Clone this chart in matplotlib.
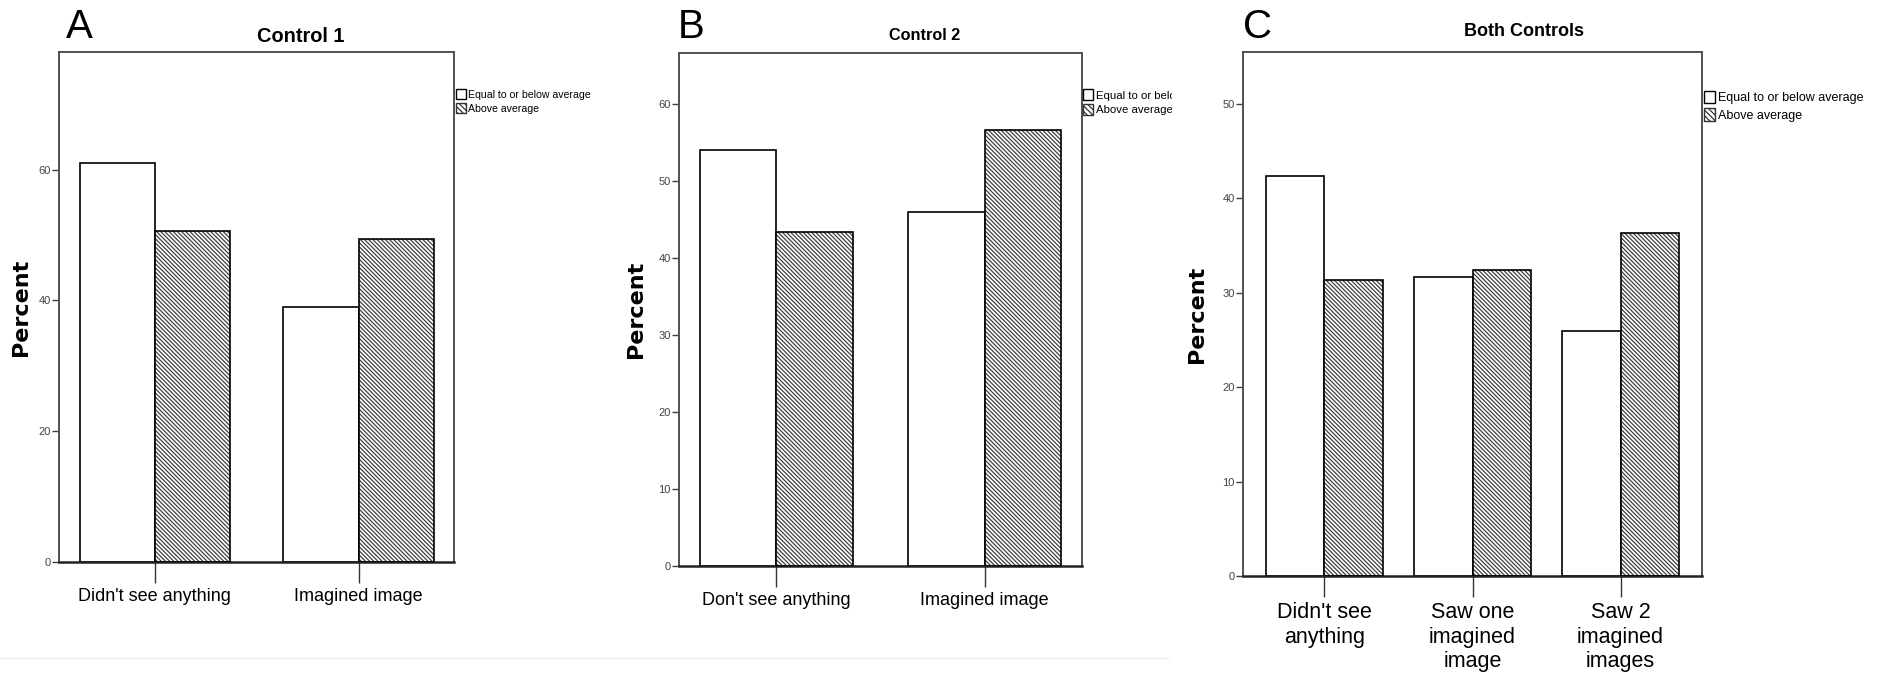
import matplotlib
matplotlib.use('Agg')
import matplotlib.pyplot as plt
import numpy as np
from matplotlib.patches import Patch
from matplotlib.lines import Line2D
from matplotlib.transforms import Bbox, TransformedBbox

W, H = 1887, 680

series_names = ['Equal to or below average', 'Above average']

cats_a = ["Didn't see anything", 'Imagined image']
below_a = [61.0, 39.0]
above_a = [50.6, 49.4]

cats_b = ["Don't see anything", 'Imagined image']
below_b = [54.0, 46.0]
above_b = [43.4, 56.6]

cats_c = ["Didn't see\nanything", 'Saw one\nimagined\nimage', 'Saw 2\nimagined\nimages']
below_c = [42.4, 31.7, 25.9]
above_c = [31.3, 32.4, 36.3]

NARROW = ['Liberation Sans Narrow', 'Liberation Sans', 'DejaVu Sans']
plt.rcParams['font.family'] = NARROW
plt.rcParams['hatch.linewidth'] = 0.9

# dense back-slash hatching, about 4 px between lines
HATCH = '\\' * 8
HATCH_LEG = '\\' * 6

fig = plt.figure(figsize=(W / 100, H / 100), dpi=100)


def px(x, y):
    # pixel position (from top-left) -> figure fraction
    return x / W, 1 - y / H


def panel(box, cats, below, above, width, ylim, yticks, xlim,
          title, title_pos, title_size, letter, letter_x, ylab_x,
          leg_pos, leg_size, cat_size, clip_x=None):
    left, top, right, bottom = box
    ax = fig.add_axes([left / W, 1 - bottom / H, (right - left) / W, (bottom - top) / H])
    x = np.arange(len(cats))

    ax.bar(x, below, width=-width, align='edge', facecolor='white',
           edgecolor='black', linewidth=1.2, zorder=2)
    ax.bar(x, above, width=width, align='edge', facecolor='white',
           edgecolor='#404040', hatch=HATCH, linewidth=0, zorder=2)
    ax.bar(x, above, width=width, align='edge', facecolor='none',
           edgecolor='black', linewidth=1.2, zorder=3)

    ax.set_xlim(*xlim)
    ax.set_ylim(*ylim)
    ax.set_yticks(yticks)
    ax.set_xticks(x)
    ax.set_xticklabels(cats, fontsize=cat_size, linespacing=1.2)
    ax.tick_params(axis='y', direction='out', length=5, width=1, color='#404040',
                   labelsize=8, labelcolor='#444444', pad=1)
    ax.tick_params(axis='x', direction='out', length=15, width=1, color='#333333',
                   pad=4)
    for s in ax.spines.values():
        s.set_color('#505050')
        s.set_linewidth(1.4)
    ax.spines['bottom'].set_color('#222222')
    ax.spines['bottom'].set_linewidth(1.8)

    fig.text(*px(*title_pos), title, ha='center', va='baseline',
             fontsize=title_size, fontweight='bold')
    fig.text(*px(letter_x, 38), letter, ha='left', va='baseline', fontsize=29)
    fig.text(*px(ylab_x, (top + bottom) / 2), 'Percent', rotation=90,
             ha='center', va='center', family='DejaVu Sans',
             fontweight='bold', fontsize=16)

    handles = [Patch(facecolor='white', edgecolor='black', linewidth=1),
               Patch(facecolor='white', edgecolor='#333333', hatch=HATCH_LEG, linewidth=1)]
    leg = ax.legend(handles, series_names, loc='upper left',
                    bbox_to_anchor=px(*leg_pos), bbox_transform=fig.transFigure,
                    frameon=False, fontsize=leg_size, handlelength=0.9,
                    handleheight=1.15, handletextpad=0.2, labelspacing=0.3,
                    borderpad=0, borderaxespad=0)
    if clip_x is not None:
        clip = TransformedBbox(Bbox.from_extents(0, 0, clip_x / W, 1), fig.transFigure)
        for t in leg.get_texts():
            t.set_clip_box(clip)
            t.set_clip_on(True)
    return ax


panel((59.5, 52, 454, 562), cats_a, below_a, above_a, 0.369, (0, 78),
      [0, 20, 40, 60], (-0.468, 1.468),
      'Control 1', (301, 42), 14.4, 'A', 66, 21,
      (456, 89), 7.6, 13)

panel((679, 53, 1082, 566), cats_b, below_b, above_b, 0.369, (0, 66.6),
      [0, 10, 20, 30, 40, 50, 60], (-0.468, 1.468),
      'Control 2', (925, 40), 11.7, 'B', 678, 636,
      (1083, 89), 8.2, 13, clip_x=1172)

panel((1243, 52, 1702, 576), cats_c, below_c, above_c, 0.395, (0, 55.5),
      [0, 10, 20, 30, 40, 50], (-0.55, 2.55),
      'Both Controls', (1524, 36), 13, 'C', 1243, 1197,
      (1704, 91), 9, 15.5)

# faint scan line under the first two panels
fig.add_artist(Line2D([0, 1169 / W], [1 - 658 / H] * 2, color='#f0f0f0', lw=1))

fig.savefig('out.png', dpi=100, facecolor='white')
